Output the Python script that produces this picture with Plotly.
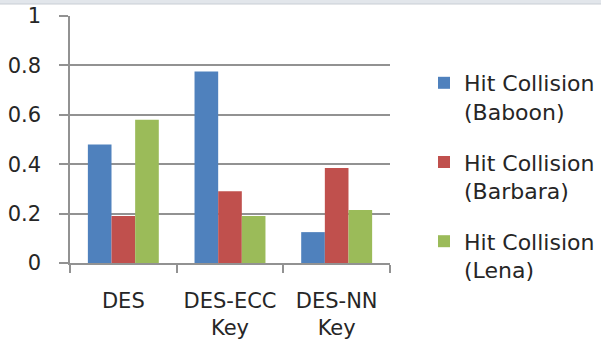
import plotly.graph_objects as go

# Categories and series values
categories = ["DES", "DES-ECC<br>Key", "DES-NN<br>Key"]
series_names = ["Hit Collision<br>(Baboon)", "Hit Collision<br>(Barbara)", "Hit Collision<br>(Lena)"]
baboon = [0.48, 0.775, 0.125]
barbara = [0.19, 0.29, 0.385]
lena = [0.58, 0.19, 0.215]
y_ticks = [0, 0.2, 0.4, 0.6, 0.8, 1]

colors = ["#4f81bd", "#c0504d", "#9bbb59"]
font_family = "DejaVu Sans, Verdana, sans-serif"
text_color = "#262626"

W, H = 601, 343
ml, mr, mt, mb = 70, 211, 16, 80
plot_w = W - ml - mr
plot_h = H - mt - mb

fig = go.Figure()
for i, (name, vals) in enumerate(zip(series_names, [baboon, barbara, lena])):
    fig.add_trace(go.Bar(
        x=categories, y=vals, name=name,
        marker=dict(color=colors[i], line=dict(width=0)),
        legendgroup=f"g{i}",
    ))

grid_color = "#929292"

# thin window band along the top edge
fig.add_shape(type="rect", xref="paper", yref="paper",
              x0=-ml / plot_w - 0.02, x1=1 + mr / plot_w + 0.02,
              y0=1 + (mt - 4) / plot_h, y1=1 + (mt + 2) / plot_h,
              fillcolor="#e2e6eb", line=dict(width=0), layer="above")
fig.add_shape(type="line", xref="paper", yref="paper",
              x0=-ml / plot_w - 0.02, x1=1 + mr / plot_w + 0.02,
              y0=1 + (mt - 4) / plot_h, y1=1 + (mt - 4) / plot_h,
              line=dict(color="#c9ced4", width=1), layer="above")

fig.update_layout(
    template="none",
    width=W, height=H,
    margin=dict(l=ml, r=mr, t=mt, b=mb, pad=0, autoexpand=False),
    paper_bgcolor="white", plot_bgcolor="white",
    barmode="group", bargap=0.335, bargroupgap=0,
    font=dict(family=font_family, size=21, color=text_color),
    showlegend=True,
    legend=dict(
        x=(424 - ml) / plot_w, y=1 + (mt - 62) / plot_h,
        xanchor="left", yanchor="top",
        font=dict(family=font_family, size=22, color=text_color),
        valign="top", tracegroupgap=19, bgcolor="rgba(0,0,0,0)",
        borderwidth=0,
    ),
    xaxis=dict(
        type="category", tickson="boundaries", automargin=False,
        showline=True, linecolor=grid_color, linewidth=1.5,
        ticks="outside", ticklen=8, tickwidth=1.5, tickcolor=grid_color,
        showgrid=False, tickangle=0, ticklabelstandoff=18,
        tickfont=dict(family=font_family, size=21, color=text_color),
        fixedrange=True,
    ),
    yaxis=dict(
        range=[0, 1], tickvals=y_ticks, ticktext=[f"{v:g}" for v in y_ticks],
        automargin=False,
        showline=True, linecolor=grid_color, linewidth=1.5,
        ticks="outside", ticklen=9, tickwidth=1.5, tickcolor=grid_color,
        showgrid=True, gridcolor=grid_color, gridwidth=1.7,
        zeroline=False, ticklabelstandoff=14,
        tickfont=dict(family=font_family, size=21, color=text_color),
        fixedrange=True,
    ),
)

fig.write_html("out.html", config={"displayModeBar": False})
